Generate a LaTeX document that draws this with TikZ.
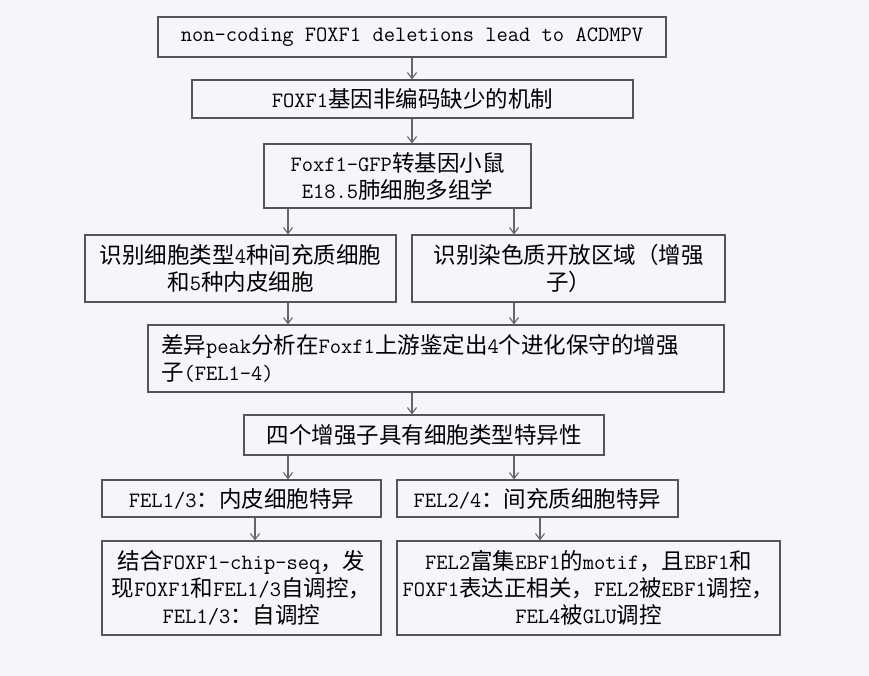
\documentclass[tikz,border=0pt]{standalone}
\usepackage{fontspec}
\newfontfamily\cjk{Noto Sans CJK SC}
\newcommand\zh[1]{{\cjk\fontsize{22.5}{27}\selectfont #1}}
\usetikzlibrary{arrows.meta}
\definecolor{bg}{HTML}{F5F5FA}
\definecolor{ln}{HTML}{555555}
\definecolor{ar}{HTML}{666666}
\begin{document}
\begin{tikzpicture}[x=1pt,y=-1pt,
  box/.style={draw=ln,line width=1.1pt,fill=bg,inner sep=0pt,align=center,
    font=\ttfamily\fontsize{21.9}{27}\selectfont,text=black},
  conn/.style={draw=ar,line width=1.1pt,-{Straight Barb[length=6pt,width=9pt]}}]
\fill[bg] (0,0) rectangle (869,676);
\useasboundingbox (0,0) rectangle (869,676);
\newcommand\bx[6]{\node[box,minimum width=#3-#1,minimum height=#4-#2] (#5) at ({(#1+#3)/2},{(#2+#4)/2}) {#6};}
\bx{158}{17}{666}{57}{b1}{non-coding FOXF1 deletions lead to ACDMPV}
\bx{192}{80}{633}{118}{b2}{FOXF1\zh{基因非编码缺少的机制}}
\bx{264}{144}{531}{208}{b3}{Foxf1-GFP\zh{转基因小鼠}\\E18.5\zh{肺细胞多组学}}
\bx{85}{235}{396}{302}{b4}{\zh{识别细胞类型}4\zh{种间充质细胞}\\\zh{和}5\zh{种内皮细胞}}
\bx{412}{235}{725}{302}{b5}{\zh{识别染色质开放区域（增强}\\\zh{子）}}
\node[box,minimum width=576,minimum height=67,align=left,text width=550] (b6) at (436,358.5)
  {\zh{差异}peak\zh{分析在}Foxf1\zh{上游鉴定出}4\zh{个进化保守的增强}\\\zh{子}(FEL1-4)};
\bx{244}{415}{604}{455}{b7}{\zh{四个增强子具有细胞类型特异性}}
\bx{102}{480}{381}{517}{b8}{FEL1/3\zh{：内皮细胞特异}}
\bx{397}{480}{678}{517}{b9}{FEL2/4\zh{：间充质细胞特异}}
\bx{102}{541}{381}{635}{b10}{\zh{结合}FOXF1-chip-seq\zh{，发}\\\zh{现}FOXF1\zh{和}FEL1/3\zh{自调控，}\\FEL1/3\zh{：自调控}}
\bx{397}{541}{780}{635}{b11}{FEL2\zh{富集}EBF1\zh{的}motif\zh{，且}EBF1\zh{和}\\FOXF1\zh{表达正相关，}FEL2\zh{被}EBF1\zh{调控，}\\FEL4\zh{被}GLU\zh{调控}}
\draw[conn] (b1.south -| 412,0) -- (b2.north -| 412,0);
\draw[conn] (b2.south -| 412,0) -- (b3.north -| 412,0);
\draw[conn] (b3.south -| 288,0) -- (b4.north -| 288,0);
\draw[conn] (b3.south -| 514,0) -- (b5.north -| 514,0);
\draw[conn] (b4.south -| 288,0) -- (b6.north -| 288,0);
\draw[conn] (b5.south -| 514,0) -- (b6.north -| 514,0);
\draw[conn] (b6.south -| 412,0) -- (b7.north -| 412,0);
\draw[conn] (b7.south -| 288,0) -- (b8.north -| 288,0);
\draw[conn] (b7.south -| 514,0) -- (b9.north -| 514,0);
\draw[conn] (b8.south -| 255,0) -- (b10.north -| 255,0);
\draw[conn] (b9.south -| 540,0) -- (b11.north -| 540,0);
\end{tikzpicture}
\end{document}
